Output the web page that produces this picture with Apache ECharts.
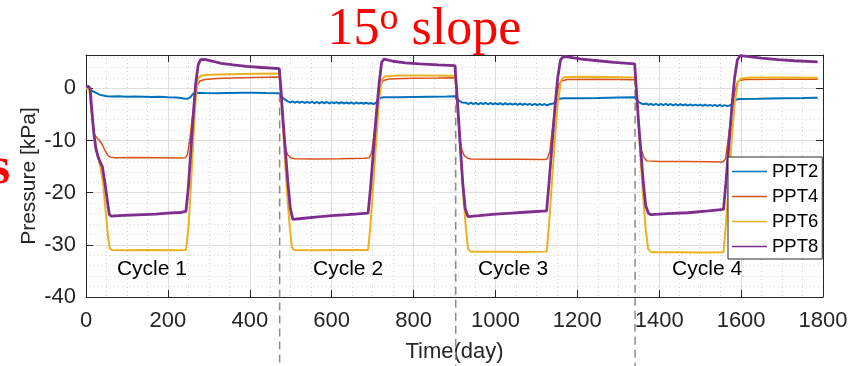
<!DOCTYPE html>
<html>
<head>
<meta charset="utf-8">
<script src="https://cdn.jsdelivr.net/npm/echarts@6/dist/echarts.min.js"></script>
<style>
  html, body { margin: 0; padding: 0; background: #ffffff; }
  #chart { width: 849px; height: 366px; }
</style>
</head>
<body>
<div id="chart"></div>
<script>
// Pore pressure sensors, four wetting/drying cycles: [time (day), pressure (kPa)]
const seriesNames = ['PPT2', 'PPT4', 'PPT6', 'PPT8'];

const ppt2 = [
  [0, 0], [8, 0.05], [12, -0.35], [18, -0.6], [25, -0.85], [33, -1.2], [42, -1.35], [52, -1.5],
  [60, -1.55], [80, -1.5], [100, -1.6], [120, -1.55], [140, -1.6], [160, -1.65], [180, -1.6],
  [200, -1.7], [220, -1.75], [232, -1.85], [242, -2.0], [250, -1.95], [256, -1.6], [262, -1.0],
  [268, -0.85], [290, -0.9], [320, -0.95], [350, -0.9], [380, -0.85], [410, -0.85], [440, -0.9],
  [472, -0.95],
  [476, -1.3], [482, -1.9], [487, -2.2], [492, -2.45], [498, -2.7], [504, -2.5], [510, -2.75],
  [516, -2.55], [522, -2.8], [528, -2.55], [534, -2.8], [540, -2.6], [546, -2.8], [552, -2.55],
  [558, -2.85], [564, -2.6], [570, -2.85], [576, -2.6], [582, -2.85], [588, -2.6], [594, -2.9],
  [600, -2.65], [606, -2.85], [612, -2.65], [618, -2.9], [624, -2.65], [630, -2.9], [636, -2.7],
  [642, -2.9], [648, -2.7], [654, -2.95], [660, -2.7], [666, -2.9], [672, -2.75], [678, -2.95],
  [684, -2.75], [690, -2.95], [696, -2.8], [702, -3.0], [708, -2.8], [714, -2.2], [720, -1.8],
  [728, -1.7], [760, -1.7], [800, -1.65], [840, -1.6], [880, -1.55], [902, -1.5],
  [906, -1.9], [912, -2.4], [918, -2.7], [922, -2.85], [928, -2.75], [934, -3.0], [940, -2.75],
  [946, -3.0], [952, -2.8], [958, -3.05], [964, -2.8], [970, -3.0], [976, -2.8], [982, -3.05],
  [988, -2.8], [994, -3.05], [1000, -2.85], [1006, -3.05], [1012, -2.85], [1018, -3.1],
  [1024, -2.85], [1030, -3.1], [1036, -2.9], [1042, -3.1], [1048, -2.9], [1054, -3.15],
  [1060, -2.9], [1066, -3.15], [1072, -2.95], [1078, -3.15], [1084, -2.95], [1090, -3.2],
  [1096, -2.95], [1102, -3.2], [1108, -3.0], [1114, -3.2], [1120, -3.0], [1126, -3.25],
  [1132, -3.05], [1136, -3.25], [1142, -2.9], [1148, -2.3], [1156, -2.0], [1166, -1.9],
  [1200, -1.9], [1250, -1.85], [1300, -1.75], [1340, -1.7],
  [1344, -2.1], [1350, -2.6], [1356, -2.9], [1362, -3.05], [1368, -2.9], [1374, -3.15],
  [1380, -2.95], [1386, -3.2], [1392, -2.95], [1398, -3.2], [1404, -3.0], [1410, -3.2],
  [1416, -2.95], [1422, -3.2], [1428, -3.0], [1434, -3.25], [1440, -3.0], [1446, -3.25],
  [1452, -3.05], [1458, -3.25], [1464, -3.05], [1470, -3.3], [1476, -3.05], [1482, -3.3],
  [1488, -3.1], [1494, -3.3], [1500, -3.1], [1506, -3.35], [1512, -3.1], [1518, -3.35],
  [1524, -3.15], [1530, -3.35], [1536, -3.15], [1542, -3.4], [1548, -3.15], [1554, -3.4],
  [1560, -3.2], [1566, -3.4], [1572, -3.3], [1578, -3.0], [1584, -2.4], [1590, -2.1],
  [1600, -2.05], [1640, -2.0], [1700, -1.9], [1750, -1.85], [1787, -1.8]
];

const ppt4 = [
  [0, 0], [8, 0], [12, -3.5], [17, -7.5], [21, -8.9], [27, -9.5], [33, -10.0], [40, -10.8],
  [47, -12.0], [54, -12.9], [60, -13.2], [70, -13.3], [120, -13.25], [180, -13.3], [230, -13.35],
  [243, -13.3], [248, -12.6], [254, -9.5], [260, -5.5], [266, -2], [272, 0.6], [278, 1.4],
  [290, 1.7], [320, 1.9], [360, 2.0], [410, 2.1], [472, 2.2],
  [476, 0], [480, -5], [484, -9.5], [488, -11.8], [493, -12.8], [500, -13.3], [510, -13.5],
  [560, -13.55], [620, -13.5], [680, -13.4], [692, -13.3], [698, -12.2], [706, -7], [714, -2],
  [720, 0.8], [726, 1.5], [740, 1.8], [800, 1.95], [860, 2.0], [901, 2.05],
  [905, 0], [909, -5], [913, -9.5], [918, -11.8], [924, -12.9], [932, -13.4], [940, -13.55],
  [1000, -13.6], [1060, -13.6], [1120, -13.65], [1127, -13.5], [1133, -12], [1140, -7],
  [1148, -2], [1155, 0.8], [1162, 1.4], [1175, 1.7], [1250, 1.75], [1300, 1.7], [1340, 1.65],
  [1344, 0], [1348, -5], [1352, -9.5], [1357, -12], [1363, -13.3], [1370, -13.9], [1400, -14.0],
  [1460, -14.0], [1520, -14.05], [1556, -14.1], [1562, -13.5], [1568, -10], [1576, -5],
  [1584, -1], [1590, 1.0], [1596, 1.5], [1610, 1.7], [1700, 1.75], [1787, 1.75]
];

const ppt6 = [
  [0, 0], [8, 0], [13, -4], [18, -7.5], [23, -10.5], [30, -13.5], [36, -15.4], [42, -18.5],
  [48, -23.5], [54, -28.5], [58, -30.7], [64, -31.0], [100, -31.05], [160, -31.0], [220, -31.05],
  [244, -31.0], [250, -27], [256, -19], [262, -10], [268, -2], [273, 1.8], [280, 2.4], [300, 2.6],
  [350, 2.7], [410, 2.8], [472, 2.85],
  [475, 0], [480, -6], [486, -14], [492, -21], [498, -27], [503, -30.5], [508, -31.0],
  [560, -31.05], [620, -31.0], [689, -31.0], [695, -26], [702, -18], [709, -10], [716, -2],
  [722, 1.6], [730, 2.3], [760, 2.45], [820, 2.45], [901, 2.4],
  [905, 0], [910, -6], [916, -14], [922, -21], [928, -27], [933, -30.8], [940, -31.3],
  [1000, -31.3], [1060, -31.35], [1125, -31.3], [1131, -26], [1138, -18], [1145, -10],
  [1152, -3], [1160, 1.5], [1168, 2.15], [1200, 2.25], [1270, 2.2], [1340, 2.1],
  [1344, 0], [1349, -6], [1355, -14], [1361, -21], [1367, -27], [1373, -30.8], [1380, -31.4],
  [1440, -31.4], [1500, -31.45], [1557, -31.4], [1563, -26], [1570, -18], [1577, -10],
  [1584, -3], [1592, 1.2], [1600, 1.9], [1620, 2.1], [1700, 2.1], [1787, 2.05]
];

const ppt8 = [
  [0, 0.3], [6, 0.4], [10, 0], [14, -4], [19, -8.5], [24, -11.5], [29, -13], [35, -14.2],
  [40, -15], [46, -18], [52, -21.5], [57, -24.2], [62, -24.5], [80, -24.4], [110, -24.3],
  [140, -24.2], [170, -24.1], [200, -23.9], [230, -23.8], [244, -23.6], [250, -19], [256, -12],
  [262, -5], [268, 1], [274, 4.5], [280, 5.5], [290, 5.55], [310, 5.2], [330, 4.8], [360, 4.5],
  [392, 4.2], [430, 4.0], [472, 3.8],
  [476, 0], [481, -6], [487, -12], [493, -18], [499, -23], [505, -25.1], [520, -25.0],
  [560, -24.7], [600, -24.4], [640, -24.2], [689, -23.9], [695, -19], [702, -12], [709, -5],
  [716, 1], [722, 5], [728, 5.6], [750, 5.2], [780, 4.9], [815, 4.7], [860, 4.5], [901, 4.35],
  [905, 0], [910, -6], [915, -12], [920, -18], [926, -23], [933, -24.6], [960, -24.4],
  [1000, -24.1], [1040, -23.9], [1080, -23.7], [1125, -23.5], [1131, -18], [1138, -11],
  [1145, -4], [1152, 2], [1159, 5.5], [1166, 6.1], [1180, 6.0], [1210, 5.6], [1250, 5.3],
  [1290, 5.0], [1340, 4.7],
  [1344, 0], [1349, -6], [1355, -12], [1361, -18], [1367, -22.5], [1374, -24.0], [1380, -24.2],
  [1420, -24.0], [1470, -23.85], [1520, -23.5], [1557, -23.2], [1563, -18], [1570, -11],
  [1577, -4], [1584, 2], [1591, 5.5], [1598, 6.3], [1620, 6.1], [1650, 5.8], [1690, 5.5],
  [1730, 5.3], [1787, 5.1]
];

// Cycle boundaries (day) and the pressure where each marker line begins
const cycleBoundDay = [473, 903, 1341];
const cycleBoundTop = [3.8, 4.35, 4.7];
const cycleBoundBottom = -54;

// Cycle captions, placed in data coordinates
const cycleNames = ['Cycle 1', 'Cycle 2', 'Cycle 3', 'Cycle 4'];
const cycleNameDay = [161, 640, 1043, 1517];
const cycleNameKPa = [-34.7, -34.7, -34.7, -34.7];

const xTicks = { min: 0, max: 1800, interval: 200 };
const yRange = { min: -40, max: 6.4, major: 10, minor: 2 };

// ---- styling ----
const palette = ['#0072BD', '#D95319', '#EDB120', '#7E2F8E'];
const lineWidths = [2, 1.5, 2, 2.8];
const axisColor = '#262626';
const gridMajor = '#dfdfdf';
const gridMinor = '#d6d6d6';
const sans = '"Liberation Sans", Arial, sans-serif';
const serif = '"Liberation Serif", "Times New Roman", serif';

const chart = echarts.init(document.getElementById('chart'), null, { renderer: 'canvas' });

const lineSeries = [ppt2, ppt4, ppt6, ppt8].map((d, i) => ({
  type: 'line',
  name: seriesNames[i],
  data: d,
  xAxisIndex: 0,
  yAxisIndex: 1,
  symbol: 'none',
  showSymbol: false,
  z: 2 + i * 0.01,
  lineStyle: { color: palette[i], width: lineWidths[i] },
  itemStyle: { color: palette[i] },
  emphasis: { disabled: true }
}));

const option = {
  animation: false,
  backgroundColor: '#ffffff',
  color: palette,
  title: {
    left: 'center',
    top: 0,
    padding: 0,
    text: '{n|15}{s|o}{n| slope}',
    textStyle: {
      fontWeight: 'normal',
      rich: {
        n: { fontFamily: serif, fontSize: 52, fontWeight: 'normal', color: '#ff0000', lineHeight: 60 },
        s: { fontFamily: serif, fontSize: 38, fontWeight: 'normal', color: '#ff0000', lineHeight: 38, verticalAlign: 'top' }
      }
    }
  },
  graphic: [{
    type: 'text',
    left: -10,
    top: 144,
    silent: true,
    style: { text: 's', font: 'bold 52px ' + serif, fill: '#ff0000' }
  }],
  grid: {
    left: 86, right: 26, top: 55, bottom: 69,
    containLabel: false,
    outerBoundsMode: 'none'
  },
  legend: {
    data: seriesNames,
    orient: 'vertical',
    left: 728,
    top: 157,
    icon: 'rect',
    itemWidth: 35,
    itemHeight: 1.6,
    itemGap: 6,
    padding: [5, 4, 3, 4],
    borderColor: axisColor,
    borderWidth: 1,
    borderRadius: 0,
    backgroundColor: '#ffffff',
    textStyle: { fontFamily: sans, fontSize: 18.5, color: '#000000', lineHeight: 19 }
  },
  xAxis: [
    {
      type: 'value', position: 'bottom',
      min: xTicks.min, max: xTicks.max, interval: xTicks.interval,
      name: 'Time(day)', nameLocation: 'middle', nameGap: 44, nameMoveOverlap: false,
      nameTextStyle: { fontFamily: sans, fontSize: 22, color: axisColor },
      axisLine: { show: true, onZero: false, lineStyle: { color: axisColor, width: 1 } },
      axisTick: { show: true, inside: true, length: 7, lineStyle: { color: axisColor } },
      axisLabel: { margin: 13, fontFamily: sans, fontSize: 22, color: axisColor, formatter: v => String(v) },
      splitLine: { show: true, lineStyle: { color: gridMajor, width: 1 } },
      minorTick: { show: false, splitNumber: 4 },
      minorSplitLine: { show: true, lineStyle: { color: gridMinor, width: 1, type: [1, 3] } }
    },
    {
      type: 'value', position: 'top',
      min: xTicks.min, max: xTicks.max, interval: xTicks.interval,
      axisLine: { show: true, onZero: false, lineStyle: { color: axisColor, width: 1 } },
      axisTick: { show: true, inside: true, length: 7, lineStyle: { color: axisColor } },
      axisLabel: { show: false },
      splitLine: { show: false }
    }
  ],
  yAxis: [
    {
      // fine dotted grid every 2 kPa
      type: 'value', position: 'left',
      min: yRange.min, max: yRange.max, interval: yRange.minor,
      axisLine: { show: false }, axisTick: { show: false }, axisLabel: { show: false },
      splitLine: { show: true, lineStyle: { color: gridMinor, width: 1, type: [1, 3] } }
    },
    {
      type: 'value', position: 'left',
      min: yRange.min, max: yRange.max, interval: yRange.major,
      name: 'Pressure [kPa]', nameLocation: 'middle', nameGap: 46, nameMoveOverlap: false,
      nameTextStyle: { fontFamily: sans, fontSize: 21, color: axisColor },
      axisLine: { show: true, onZero: false, lineStyle: { color: axisColor, width: 1 } },
      axisTick: { show: true, inside: true, length: 7, lineStyle: { color: axisColor } },
      axisLabel: {
        margin: 10, fontFamily: sans, fontSize: 22, color: axisColor,
        formatter: v => (Math.abs(v % yRange.major) < 1e-9 ? String(v) : '')
      },
      splitLine: { show: true, lineStyle: { color: gridMajor, width: 1 } }
    },
    {
      type: 'value', position: 'right',
      min: yRange.min, max: yRange.max, interval: yRange.major,
      axisLine: { show: true, onZero: false, lineStyle: { color: axisColor, width: 1 } },
      axisTick: { show: true, inside: true, length: 7, lineStyle: { color: axisColor } },
      axisLabel: { show: false },
      splitLine: { show: false }
    }
  ],
  series: [
    {
      type: 'custom',
      name: 'cycle-bounds',
      xAxisIndex: 0, yAxisIndex: 1,
      z: 1, silent: true, clip: false,
      data: cycleBoundDay.map((d, i) => [d, cycleBoundTop[i], cycleBoundBottom]),
      renderItem: (params, api) => {
        const p0 = api.coord([api.value(0), api.value(1)]);
        const p1 = api.coord([api.value(0), api.value(2)]);
        return {
          type: 'line',
          shape: { x1: p0[0], y1: p0[1], x2: p1[0], y2: p1[1] },
          style: { stroke: '#8c8c8c', lineWidth: 1.5, lineDash: [8, 5] }
        };
      }
    },
    ...lineSeries,
    {
      type: 'custom',
      name: 'cycle-names',
      xAxisIndex: 0, yAxisIndex: 1,
      z: 3, silent: true, clip: false,
      data: cycleNameDay.map((d, i) => [d, cycleNameKPa[i]]),
      renderItem: (params, api) => {
        const p = api.coord([api.value(0), api.value(1)]);
        return {
          type: 'text',
          x: p[0], y: p[1],
          style: {
            text: cycleNames[params.dataIndex],
            font: '21px ' + sans,
            fill: '#000000',
            align: 'center', verticalAlign: 'middle',
            textAlign: 'center', textVerticalAlign: 'middle'
          }
        };
      }
    }
  ]
};

chart.setOption(option);
</script>
</body>
</html>
